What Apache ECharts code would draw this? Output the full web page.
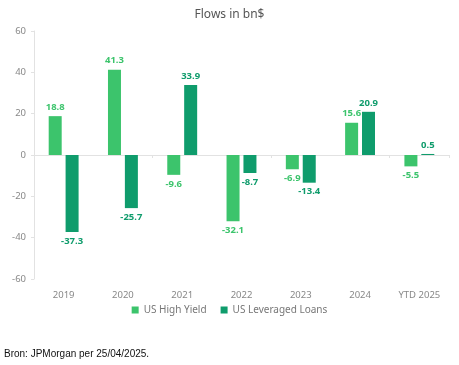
<!DOCTYPE html>
<html><head><meta charset="utf-8">
<script src="https://cdn.jsdelivr.net/npm/echarts@6/dist/echarts.min.js"></script>
<style>html,body{margin:0;padding:0;background:#fff}#c{width:459px;height:365px;position:relative}
#src{position:absolute;left:4px;top:348px;font-family:"Liberation Sans",Arial,sans-serif;font-size:10px;color:#111}</style>
</head><body><div id="c"></div><div id="src">Bron: JPMorgan per 25/04/2025.</div>
<script>
const categories = ['2019','2020','2021','2022','2023','2024','YTD 2025'];
const highYield = [18.8, 41.3, -9.6, -32.1, -6.9, 15.6, -5.5];
const leveragedLoans = [-37.3, -25.7, 33.9, -8.7, -13.4, 20.9, 0.5];
const yTicks = [-60, -40, -20, 0, 20, 40, 60];

const chart = echarts.init(document.getElementById('c'));
const font = '"Noto Sans", sans-serif';
function lbl(color){return {show:true, position:'outside', distance:4, color:color, fontWeight:'bold', fontSize:9.5, fontFamily:font};}
chart.setOption({
  animation:false,
  title:{text:'Flows in bn$', left:'center', top:4, textStyle:{fontFamily:font, fontSize:12, fontWeight:'normal', color:'#555'}},
  grid:{left:34, right:10, top:31, bottom:86},
  legend:{bottom:45, left:'center', itemWidth:7, itemHeight:7, itemGap:14, icon:'rect', textStyle:{fontFamily:font, fontSize:10, color:'#777'}, data:['US High Yield','US Leveraged Loans']},
  xAxis:[
    {type:'category', data:categories, position:'bottom', axisLine:{show:false, onZero:false}, axisTick:{show:false}, axisLabel:{color:'#888', fontSize:9.5, fontFamily:font, margin:11}},
    {type:'category', data:categories, position:'bottom', axisLine:{show:true, onZero:true, lineStyle:{color:'#e2e2e2'}}, axisTick:{show:true, length:3, lineStyle:{color:'#e2e2e2'}}, axisLabel:{show:false}}
  ],
  yAxis:{type:'value', min:yTicks[0], max:yTicks[yTicks.length-1], interval:20, axisLine:{show:true, lineStyle:{color:'#e2e2e2'}}, axisTick:{show:true, length:3, lineStyle:{color:'#e2e2e2'}}, splitLine:{show:false}, axisLabel:{color:'#888', fontSize:9.5, fontFamily:font, margin:8}},
  series:[
    {name:'US High Yield', type:'bar', xAxisIndex:0, data:highYield, barWidth:13, barGap:'30%', itemStyle:{color:'#3cc46c'}, label:lbl('#3cc46c')},
    {name:'US Leveraged Loans', type:'bar', xAxisIndex:0, data:leveragedLoans, barWidth:13, barGap:'30%', itemStyle:{color:'#0f9c6c'}, label:lbl('#0f9c6c')}
  ]
});
</script></body></html>
